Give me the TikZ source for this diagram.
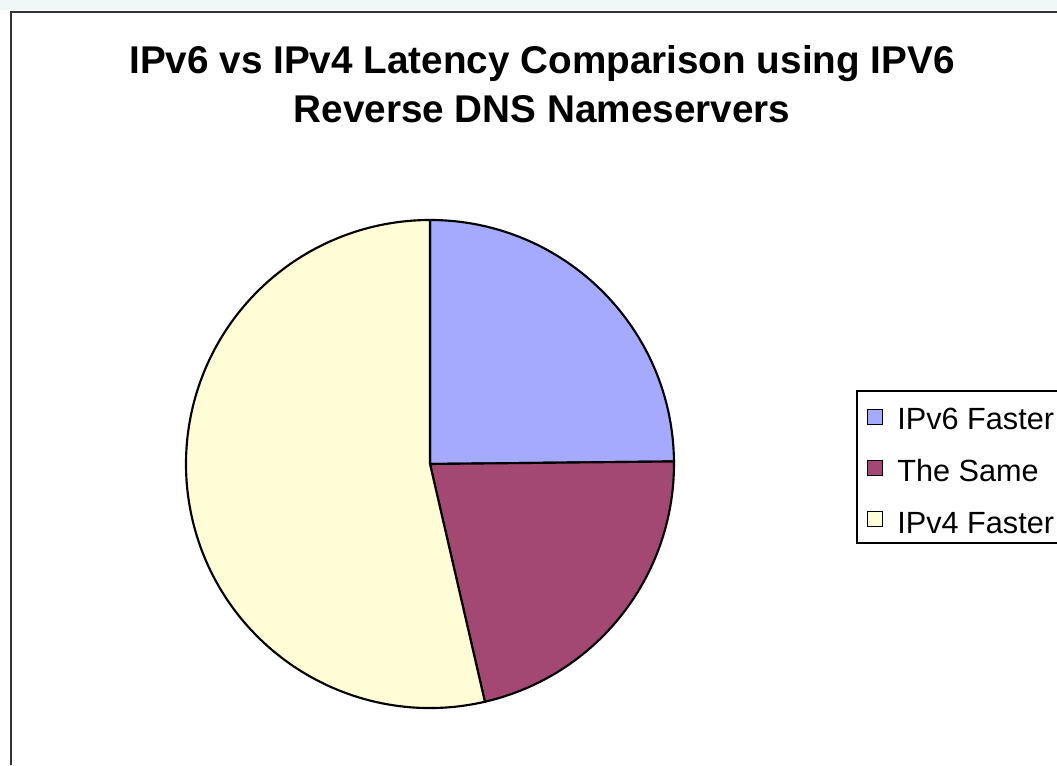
\documentclass[tikz,border=0pt]{standalone}
\usepackage{fontspec}
\setmainfont{Liberation Sans}
\definecolor{sixfaster}{RGB}{166,170,255}
\definecolor{thesame}{RGB}{162,72,115}
\definecolor{fourfaster}{RGB}{255,253,214}
\definecolor{topband}{RGB}{240,247,247}

\begin{document}
\begin{tikzpicture}[x=0.75pt,y=0.75pt,
  slice/.style={draw=black,line width=1.6pt,line join=round},
  keybox/.style={draw=black,line width=1pt,minimum size=11pt,inner sep=0pt},
  keytext/.style={anchor=base west,inner sep=0pt,font=\fontsize{23}{27}\selectfont},
  charttitle/.style={anchor=base,inner sep=0pt,font=\fontsize{29}{34}\selectfont\bfseries}]

  \useasboundingbox (0,0) rectangle (1057,765);
  \fill[topband] (0,755) rectangle (1057,765);
  \draw[line width=1.6pt,draw=black!80] (11,0) -- (11,753) -- (1070,753);

  \draw (542,691) node[charttitle] (t1) {IPv6 vs IPv4 Latency Comparison using IPV6}
  ++(0,-49) node[charttitle] (t2) {Reverse DNS Nameservers};

  \coordinate (o) at (430,301);
  \draw[slice,fill=sixfaster] (o) -- ++(90:244) arc[start angle=90,end angle=0.6,radius=244] -- cycle;
  \draw[slice,fill=thesame] (o) -- ++(0.6:244) arc[start angle=0.6,end angle=-77,radius=244] -- cycle;
  \draw[slice,fill=fourfaster] (o) -- ++(-77:244) arc[start angle=-77,end angle=-270,radius=244] -- cycle;

  \draw[line width=1.3pt] (1070,222) -- (857,222) -- (857,374) -- (1070,374);
  \draw (875,348) node[keybox,fill=sixfaster] (k1) {}
  ++(0,-51) node[keybox,fill=thesame] (k2) {}
  ++(0,-51) node[keybox,fill=fourfaster] (k3) {};
  \draw (897,335) node[keytext] (l1) {IPv6 Faster}
  ++(0,-51.5) node[keytext] (l2) {The Same}
  ++(0,-51.5) node[keytext] (l3) {IPv4 Faster};

\end{tikzpicture}
\end{document}
